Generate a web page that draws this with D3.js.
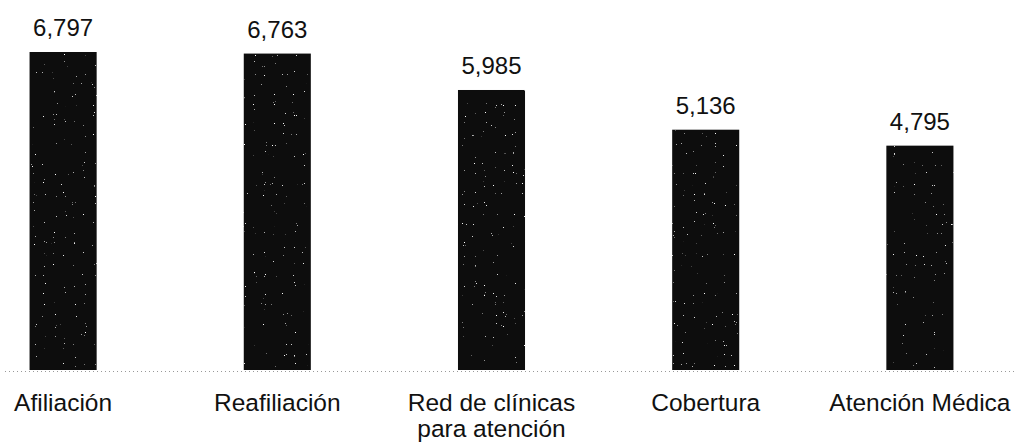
<!DOCTYPE html>
<html>
<head>
<meta charset="utf-8">
<script src="https://cdnjs.cloudflare.com/ajax/libs/d3/7.8.5/d3.min.js"></script>
<style>
  body { margin: 0; background: #fff; }
  svg { display: block; font-family: Arial, "Liberation Sans", sans-serif; }
</style>
</head>
<body>
<div id="chart"></div>
<script>
// data
var categories = ['Afiliación', 'Reafiliación', 'Red de clínicas para atención', 'Cobertura', 'Atención Médica'];
var category_lines = [['Afiliación'], ['Reafiliación'], ['Red de clínicas', 'para atención'], ['Cobertura'], ['Atención Médica']];
var values = [6797, 6763, 5985, 5136, 4795];

var svg_size = { width: 1018, height: 445 };

var x_scale = d3.scaleBand()
    .domain(categories)
    .range([-44, 1027])
    .paddingInner(0.687)
    .paddingOuter(0.3435);

var y_scale = d3.scaleLinear()
    .domain([0, 6797])
    .range([370, 52]);

var fmt = d3.format(',');

var svg = d3.select('#chart')
    .append('svg')
    .attr('width', svg_size.width)
    .attr('height', svg_size.height);

// scanned-print speckle on the bars
var filter = svg.append('defs').append('filter')
    .attr('id', 'speckle')
    .attr('x', 0).attr('y', 0).attr('width', 1).attr('height', 1);
filter.append('feTurbulence')
    .attr('type', 'fractalNoise')
    .attr('baseFrequency', 0.9)
    .attr('numOctaves', 1)
    .attr('seed', 7)
    .attr('result', 'noise');
filter.append('feColorMatrix')
    .attr('in', 'noise')
    .attr('type', 'matrix')
    .attr('values', '0 0 0 0 1  0 0 0 0 1  0 0 0 0 1  18 0 0 0 -13.2')
    .attr('result', 'dots');
filter.append('feComposite')
    .attr('in', 'dots')
    .attr('in2', 'SourceGraphic')
    .attr('operator', 'in')
    .attr('result', 'dots_in');
var merge = filter.append('feMerge');
merge.append('feMergeNode').attr('in', 'SourceGraphic');
merge.append('feMergeNode').attr('in', 'dots_in');

// dotted baseline
svg.append('line')
    .attr('x1', 5)
    .attr('x2', 1015)
    .attr('y1', y_scale(0) + 1.5)
    .attr('y2', y_scale(0) + 1.5)
    .attr('stroke', '#999')
    .attr('stroke-width', 1)
    .attr('stroke-dasharray', '1,3');

var bar = svg.selectAll('.bar')
    .data(categories)
    .enter()
    .append('g')
    .classed('bar', true);

bar.append('rect')
    .attr('x', function(d){ return x_scale(d); })
    .attr('y', function(d, i){ return y_scale(values[i]); })
    .attr('width', x_scale.bandwidth())
    .attr('height', function(d, i){ return y_scale(0) - y_scale(values[i]); })
    .style('fill', '#0a0a0a')
    .attr('filter', 'url(#speckle)');

// value labels
bar.append('text')
    .attr('x', function(d){ return x_scale(d) + x_scale.bandwidth()/2; })
    .attr('y', function(d, i){ return y_scale(values[i]) - 16; })
    .attr('text-anchor', 'middle')
    .style('font-size', '24px')
    .style('fill', '#111')
    .text(function(d, i){ return fmt(values[i]); });

// category labels
var cat_text = bar.append('text')
    .attr('text-anchor', 'middle')
    .style('font-size', '24.5px')
    .style('fill', '#111');

cat_text.selectAll('tspan')
    .data(function(d, i){
        return category_lines[i].map(function(line){ return { line: line, cat: d }; });
    })
    .enter()
    .append('tspan')
    .attr('x', function(t){ return x_scale(t.cat) + x_scale.bandwidth()/2; })
    .attr('y', function(t, j){ return 411 + j*26; })
    .text(function(t){ return t.line; });
</script>
</body>
</html>
